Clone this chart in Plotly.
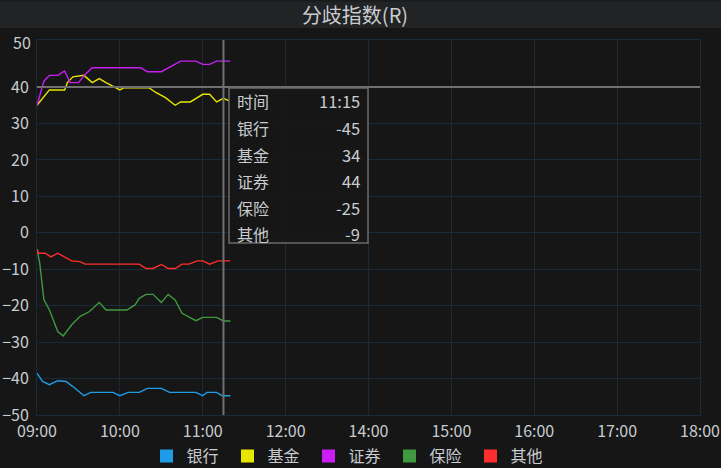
import plotly.graph_objects as go

DAY = "2024-01-02 "

# ---- data ----
bank_t = ["09:00","09:04","09:09","09:15","09:21","09:26","09:34","09:39","09:55","10:00","10:06","10:14","10:20","10:30","10:36","10:55","11:00","11:03","11:10","11:14","11:20"]
bank_v = [-38.5,-40.8,-41.7,-40.6,-40.8,-42.2,-44.7,-43.8,-43.8,-44.7,-43.8,-43.8,-42.7,-42.7,-43.8,-43.8,-44.7,-43.8,-43.8,-44.7,-44.7]

fund_t = ["09:00","09:09","09:20","09:22","09:26","09:34","09:40","09:45","09:50","10:00","10:03","10:21","10:26","10:33","10:40","10:44","10:51","11:00","11:05","11:10","11:15","11:19"]
fund_v = [35,39.2,39.2,41.2,42.8,43.2,41.2,42.3,41.2,39.2,39.8,39.8,38.5,37.1,35,35.9,35.9,38,38,35.9,36.9,36.2]

sec_t = ["09:00","09:05","09:09","09:15","09:20","09:24","09:30","09:35","09:40","10:15","10:20","10:30","10:44","10:55","11:00","11:05","11:10","11:20"]
sec_v = [35,41.6,43.2,43.2,44.4,41.2,41.2,43.5,45.3,45.3,44.2,44.2,47.1,47.1,46.2,46.2,47.1,47.1]

ins_t = ["09:00","09:02","09:05","09:09","09:15","09:19","09:25","09:31","09:38","09:45","09:50","10:05","10:11","10:14","10:19","10:24","10:30","10:35","10:40","10:45","10:55","11:00","11:10","11:15","11:20"]
ins_v = [-4.5,-8.4,-18.4,-21.2,-27.1,-28.3,-25.3,-23,-21.6,-19.1,-21.2,-21.2,-19.8,-18,-16.9,-16.9,-19.1,-16.9,-18.4,-22.1,-24.1,-23.2,-23.2,-24.2,-24.2]

oth_t = ["09:00","09:01","09:06","09:10","09:15","09:20","09:25","09:31","09:35","10:14","10:19","10:24","10:30","10:35","10:40","10:45","10:50","10:56","11:00","11:05","11:11","11:20"]
oth_v = [-4.5,-5.6,-5.6,-6.6,-5.6,-6.7,-7.7,-7.9,-8.6,-8.6,-9.8,-9.8,-8.7,-9.8,-9.8,-8.6,-8.6,-7.7,-7.7,-8.6,-7.7,-7.7]

names = ["银行", "基金", "证券", "保险", "其他"]
colors = ["#1e9de6", "#e6e600", "#c81ef5", "#3f9a3f", "#ff2d2d"]
series_t = [bank_t, fund_t, sec_t, ins_t, oth_t]
series_v = [bank_v, fund_v, sec_v, ins_v, oth_v]

# tick labels and the session times where they sit (lunch hour 12:00-13:00 is skipped)
tick_labels = ["09:00", "10:00", "11:00", "12:00", "14:00", "15:00", "16:00", "17:00", "18:00"]
tick_times = ["09:00", "10:00", "11:00", "13:00", "14:00", "15:00", "16:00", "17:00", "18:00"]
y_ticks = [-50, -40, -30, -20, -10, 0, 10, 20, 30, 40]

cross_time = "11:15"
cross_value = 40
tip_labels = ["时间", "银行", "基金", "证券", "保险", "其他"]
tip_values = ["11:15", "-45", "34", "44", "-25", "-9"]

# ---- style ----
BG = "#161616"
GRID = "#1b2a38"
TXT = "#c8ccd0"
FONT = "Noto Sans CJK SC"

fig = go.Figure()
for n, c, t, v in zip(names, colors, series_t, series_v):
    fig.add_trace(go.Scatter(x=[DAY + s for s in t], y=v, mode="lines", name=n,
                             line=dict(color=c, width=1.4), showlegend=False,
                             hoverinfo="skip"))
for n, c in zip(names, colors):
    fig.add_trace(go.Scatter(x=[None], y=[None], mode="markers", name=n,
                             marker=dict(symbol="square", size=13, color=c)))

# plot geometry (px)
L, R, T, B = 37, 700, 40, 415
W, H = 721, 468
pw, ph = R - L, B - T

def px_x(x):
    return (x - L) / pw

def px_y(y):
    return (B - y) / ph

shapes = [
    # title bar
    dict(type="rect", xref="paper", yref="paper", x0=px_x(0), x1=px_x(W), y0=px_y(2), y1=px_y(0),
         fillcolor="#1b1c1e", line_width=0, layer="below"),
    dict(type="rect", xref="paper", yref="paper", x0=px_x(0), x1=px_x(W), y0=px_y(28), y1=px_y(2),
         fillcolor="#212325", line_width=0, layer="below"),
    # crosshair
    dict(type="line", xref="x", yref="paper", x0=DAY + cross_time, x1=DAY + cross_time, y0=0, y1=1,
         line=dict(color="#707070", width=2)),
    dict(type="line", xref="paper", yref="y", x0=0, x1=1, y0=cross_value, y1=cross_value,
         line=dict(color="#707070", width=2)),
    # tooltip box
    dict(type="rect", xref="paper", yref="paper", x0=px_x(229), x1=px_x(368), y0=px_y(243), y1=px_y(88),
         fillcolor="rgba(22,22,22,0.85)", line=dict(color="#6a6a6a", width=1.5)),
]

annotations = []
row_y = [101, 128, 155, 181, 208, 234]
for lab, val, ry in zip(tip_labels, tip_values, row_y):
    annotations.append(dict(xref="paper", yref="paper", x=px_x(235), y=px_y(ry), text=lab,
                            showarrow=False, xanchor="left", yanchor="middle",
                            font=dict(family=FONT, size=16, color=TXT)))
    annotations.append(dict(xref="paper", yref="paper", x=px_x(362), y=px_y(ry), text=val,
                            showarrow=False, xanchor="right", yanchor="middle",
                            font=dict(family=FONT, size=16.5, color=TXT)))
# top "50" label (sits at the top edge of the plot in the reference)
annotations.append(dict(xref="paper", yref="paper", x=px_x(33), y=px_y(42), text="50", showarrow=False,
                        xanchor="right", yanchor="middle", font=dict(family=FONT, size=16, color=TXT)))

tickvals = [DAY + s for s in tick_times]

fig.update_layout(
    width=W, height=H,
    margin=dict(l=L, r=W - R, t=T, b=H - B, autoexpand=False),
    paper_bgcolor=BG, plot_bgcolor=BG,
    font=dict(family=FONT, size=16, color=TXT),
    title=dict(text="分歧指数(R)", x=355 / W, xanchor="center", xref="container", y=1 - 16 / H, yanchor="middle",
               yref="container", font=dict(family=FONT, size=20, color=TXT)),
    xaxis=dict(type="date", range=[DAY + "09:00", DAY + "18:00"],
               rangebreaks=[dict(bounds=[12, 13], pattern="hour")],
               tickmode="array", tickvals=tickvals, ticktext=tick_labels,
               showgrid=True, gridcolor=GRID, gridwidth=1, automargin=False,
               showline=True, linecolor=GRID, mirror=True, zeroline=False,
               ticks="", ticklabelstandoff=2, tickfont=dict(size=16, color=TXT)),
    yaxis=dict(range=[-50, 52.9], tickmode="array", tickvals=y_ticks,
               showgrid=True, gridcolor=GRID, gridwidth=1, automargin=False,
               showline=True, linecolor=GRID, mirror=True, zeroline=False,
               ticks="", ticklabelstandoff=4, tickfont=dict(size=16, color=TXT)),
    legend=dict(orientation="h", x=349 / W, xanchor="center", xref="container", y=12 / H, yref="container",
                yanchor="middle", font=dict(family=FONT, size=16, color=TXT), bgcolor="rgba(0,0,0,0)",
                itemclick=False, itemwidth=30, entrywidth=36, entrywidthmode="pixels"),
    shapes=shapes, annotations=annotations,
    hovermode=False,
)

fig.write_html("out.html", config={"displayModeBar": False},
               post_script="document.body.style.margin='0';document.body.style.background='%s';" % BG)
